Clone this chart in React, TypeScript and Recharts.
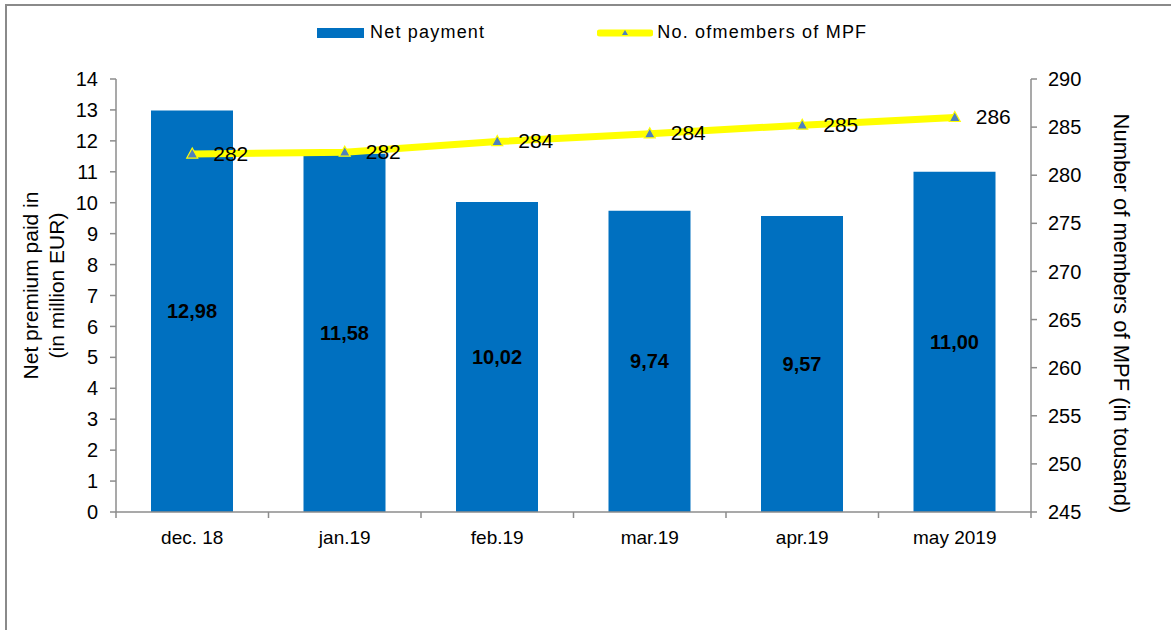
import React from "react";
import {
  Bar,
  ComposedChart,
  LabelList,
  Legend,
  Line,
  XAxis,
  YAxis,
} from "recharts";

// values
const months = ["dec. 18", "jan.19", "feb.19", "mar.19", "apr.19", "may 2019"];
const netPayment = [12.98, 11.58, 10.02, 9.74, 9.57, 11.0];
const members = [282.2, 282.4, 283.5, 284.3, 285.2, 286.0];

const leftTicks = [0, 1, 2, 3, 4, 5, 6, 7, 8, 9, 10, 11, 12, 13, 14];
const rightTicks = [245, 250, 255, 260, 265, 270, 275, 280, 285, 290];

const data = months.map((name, i) => ({
  name,
  net: netPayment[i],
  members: members[i],
}));

const FONT = "'Liberation Sans', Arial, sans-serif";
const AXIS = "#8c8c8c";
const BLUE = "#0070C0";
const YELLOW = "#FFFF00";

const Triangle = (props: any) => {
  const { cx, cy } = props;
  if (cx == null || cy == null) return null;
  return (
    <polygon
      points={`${cx},${cy - 6} ${cx - 5.5},${cy + 4} ${cx + 5.5},${cy + 4}`}
      fill="#4F81BD"
      stroke={YELLOW}
      strokeWidth={1.2}
    />
  );
};

const MemberLabel = (props: any) => {
  const { x, y, value } = props;
  return (
    <text
      x={x + 21}
      y={y - 1}
      fontSize={21}
      fontFamily={FONT}
      fill="#000"
      dominantBaseline="central"
    >
      {Math.round(value)}
    </text>
  );
};

// category label plus a tick mark on the band edges (Excel style)
const MonthTick = (props: any) => {
  const { x, y, payload, index, visibleTicksCount } = props;
  const half = payload.offset || 0;
  const axisY = y - 19;
  return (
    <g>
      <line x1={x - half} y1={axisY} x2={x - half} y2={axisY + 6} stroke={AXIS} strokeWidth={1.5} />
      {index === visibleTicksCount - 1 && (
        <line x1={x + half} y1={axisY} x2={x + half} y2={axisY + 6} stroke={AXIS} strokeWidth={1.5} />
      )}
      <text
        x={x}
        y={y}
        dy="0.71em"
        textAnchor="middle"
        fontSize={19}
        fontFamily={FONT}
        fill="#000"
      >
        {payload.value}
      </text>
    </g>
  );
};

const LeftTitle = (props: any) => {
  const { viewBox } = props;
  const cy = viewBox.y + viewBox.height / 2 - 10;
  const x = viewBox.x;
  return (
    <g fontFamily={FONT} fontSize={21} fill="#000">
      <text
        transform={`translate(${x + 30}, ${cy}) rotate(-90)`}
        textAnchor="middle"
        dominantBaseline="central"
      >
        Net premium paid in
      </text>
      <text
        transform={`translate(${x + 56}, ${cy}) rotate(-90)`}
        textAnchor="middle"
        dominantBaseline="central"
      >
        (in million EUR)
      </text>
    </g>
  );
};

const RightTitle = (props: any) => {
  const { viewBox } = props;
  const cy = viewBox.y + viewBox.height / 2 + 18;
  return (
    <text
      transform={`translate(${viewBox.x + 90}, ${cy}) rotate(90)`}
      textAnchor="middle"
      dominantBaseline="central"
      fontFamily={FONT}
      fontSize={22}
      fill="#000"
    >
      Number of members of MPF  (in tousand)
    </text>
  );
};

const LegendContent = () => (
  <div
    style={{
      display: "flex",
      alignItems: "center",
      fontFamily: FONT,
      fontSize: 18,
      letterSpacing: 1.2,
      color: "#000",
      paddingLeft: 317,
    }}
  >
    <span style={{ width: 47, height: 10, background: BLUE, display: "inline-block" }} />
    <span style={{ marginLeft: 6, marginRight: 112 }}>Net payment</span>
    <svg width={56} height={10}>
      <line x1={3} y1={5} x2={53} y2={5} stroke={YELLOW} strokeWidth={7} strokeLinecap="round" />
      <polygon points="28,2 25,7 31,7" fill="#4F81BD" />
    </svg>
    <span style={{ marginLeft: 4 }}>No. ofmembers of MPF</span>
  </div>
);

export default function App() {
  return (
    <div
      style={{
        position: "absolute",
        left: 0,
        top: 0,
        width: 1171,
        height: 630,
        overflow: "hidden",
        background: "#fff",
      }}
    >
      <div
        style={{
          position: "absolute",
          left: 5,
          top: 4,
          width: 1200,
          height: 700,
          border: "2px solid #8a8a8a",
        }}
      />
      <div style={{ position: "absolute", left: 0, top: 0 }}>
        <ComposedChart
          width={1171}
          height={630}
          data={data}
          margin={{ top: 79, right: 0, bottom: 117, left: 0 }}
        >
          <Legend
            layout="vertical"
            align="center"
            verticalAlign="middle"
            content={<LegendContent />}
            wrapperStyle={{ top: 22, left: 0, width: 1171 }}
          />
          <XAxis
            xAxisId="cat"
            dataKey="name"
            height={1}
            tickLine={false}
            tickSize={6}
            tickMargin={13}
            axisLine={{ stroke: AXIS, strokeWidth: 1.5 }}
            tick={<MonthTick />}
            interval={0}
          />
          <YAxis
            yAxisId="left"
            orientation="left"
            width={116}
            domain={[0, 14]}
            ticks={leftTicks}
            interval={0}
            tickSize={6}
            tickMargin={12}
            axisLine={{ stroke: AXIS, strokeWidth: 1.5 }}
            tickLine={{ stroke: AXIS, strokeWidth: 1.5 }}
            tick={{ fontSize: 20, fontFamily: FONT, fill: "#000" }}
            label={<LeftTitle />}
          />
          <YAxis
            yAxisId="right"
            orientation="right"
            width={140}
            domain={[245, 290]}
            ticks={rightTicks}
            interval={0}
            tickSize={6}
            tickMargin={11}
            axisLine={{ stroke: AXIS, strokeWidth: 1.5 }}
            tickLine={{ stroke: AXIS, strokeWidth: 1.5 }}
            tick={{ fontSize: 20, fontFamily: FONT, fill: "#000" }}
            label={<RightTitle />}
          />
          <Bar
            xAxisId="cat"
            yAxisId="left"
            dataKey="net"
            name="Net payment"
            fill={BLUE}
            barSize={82}
            isAnimationActive={false}
          >
            <LabelList
              dataKey="net"
              position="center"
              formatter={(v: any) => Number(v).toFixed(2).replace(".", ",")}
              style={{ fontSize: 20, fontWeight: "bold", fontFamily: FONT, fill: "#000" }}
            />
          </Bar>
          <Line
            xAxisId="cat"
            yAxisId="right"
            dataKey="members"
            name="No. ofmembers of MPF"
            stroke={YELLOW}
            strokeWidth={7}
            dot={<Triangle />}
            activeDot={false}
            isAnimationActive={false}
          >
            <LabelList dataKey="members" content={<MemberLabel />} />
          </Line>
        </ComposedChart>
      </div>
    </div>
  );
}
